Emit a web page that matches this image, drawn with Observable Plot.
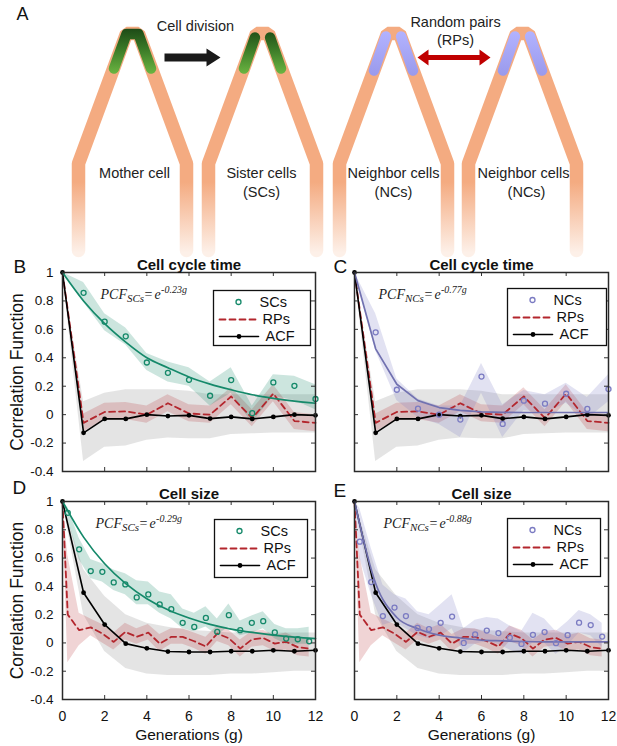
<!DOCTYPE html>
<html><head><meta charset="utf-8">
<script src="https://cdn.jsdelivr.net/npm/d3@7"></script>
<script src="https://cdn.jsdelivr.net/npm/@observablehq/plot@0.6"></script>
<style>
body{margin:0;background:#fff;}
#fig{position:relative;width:617px;height:746px;overflow:hidden;background:#fff;}
</style></head><body><div id="fig"></div>
<script>
// ---------------- data ----------------
const gens = [0,1,2,3,4,5,6,7,8,9,10,11,12];
const gens1 = [1,2,3,4,5,6,7,8,9,10,11,12];
const halfGens = [0.25,0.79,1.34,1.89,2.43,2.98,3.52,4.07,4.61,5.16,5.70,6.25,6.80,7.34,7.89,8.43,8.98,9.52,10.07,10.61,11.16,11.70];
const halfGens0 = [0,0.25,0.79,1.34,1.89,2.43,2.98,3.52,4.07,4.61,5.16,5.70,6.25,6.80,7.34,7.89,8.43,8.98,9.52,10.07,10.61,11.16,11.70];
const yTicks = [-0.4,-0.2,0,0.2,0.4,0.6,0.8,1];
const yTickLabels = ["-0.4","-0.2","0","0.2","0.4","0.6","0.8","1"];
const xTicks = [0,2,4,6,8,10,12];
const xTickLabels = ["0","2","4","6","8","10","12"];

// Panel B: cell cycle time, sister cells
const scCycle   = [0.857,0.654,0.551,0.367,0.294,0.245,0.133,0.243,0.010,0.227,0.203,0.110];
const scCycleHi = [1,0.93,0.71,0.61,0.43,0.37,0.33,0.23,0.33,0.06,0.28,0.27,0.21];
const scCycleLo = [1,0.79,0.59,0.49,0.31,0.23,0.20,0.06,0.15,-0.06,0.13,0.10,0.035];
const scCycleFit = [1,0.80,0.64,0.51,0.40,0.33,0.265,0.215,0.175,0.14,0.115,0.095,0.08];
// random pairs & ACF, cell cycle time (B and C)
const rpCycle   = [1,-0.058,0.019,0.023,0.0,0.080,0.008,0.0,0.128,-0.025,0.148,-0.045,-0.058];
const rpCycleHi = [1,0.005,0.08,0.085,0.06,0.14,0.07,0.06,0.19,0.035,0.21,0.015,0.0];
const rpCycleLo = [1,-0.12,-0.04,-0.035,-0.06,0.02,-0.05,-0.06,0.07,-0.085,0.09,-0.105,-0.12];
const acfCycle   = [1,-0.128,-0.030,-0.030,0.0,-0.010,-0.005,-0.028,-0.016,-0.030,-0.016,0.0,-0.005];
const acfCycleHi = [1,0.09,0.15,0.175,0.175,0.175,0.165,0.14,0.14,0.14,0.14,0.14,0.14];
const acfCycleLo = [1,-0.33,-0.23,-0.22,-0.18,-0.165,-0.17,-0.17,-0.14,-0.135,-0.13,-0.13,-0.13];
// Panel C: cell cycle time, neighbor cells
const ncCycle   = [0.579,0.175,0.042,0.0,-0.035,0.268,-0.065,0.098,0.077,0.147,0.040,0.180];
const ncCycleHi = [1,0.71,0.25,0.11,0.06,0.06,0.36,0.07,0.17,0.14,0.22,0.12,0.28];
const ncCycleLo = [1,0.45,0.10,-0.02,-0.07,-0.16,0.15,-0.16,0.03,0.01,0.08,-0.03,0.09];
const ncCycleFit = [1,0.463,0.214,0.099,0.05,0.03,0.02,0.016,0.015,0.015,0.015,0.015,0.015];
// Panel D: cell size, sister cells
const scSize   = [0.92,0.662,0.508,0.503,0.428,0.414,0.322,0.343,0.272,0.239,0.142,0.113,0.177,0.078,0.196,0.090,0.142,0.154,0.074,0.031,0.026,0.012];
const scSizeHi = [1,0.96,0.74,0.59,0.56,0.515,0.49,0.44,0.43,0.36,0.34,0.24,0.21,0.255,0.17,0.275,0.155,0.19,0.22,0.13,0.10,0.10,0.11];
const scSizeLo = [1,0.88,0.59,0.456,0.43,0.37,0.34,0.27,0.27,0.21,0.17,0.10,0.08,0.113,0.055,0.113,0.05,0.07,0.10,0.03,-0.01,-0.01,-0.01];
const scSizeFit = [1,0.748,0.560,0.419,0.313,0.234,0.176,0.131,0.098,0.074,0.055,0.041,0.031];
// random pairs & ACF, cell size (D and E)
const rpSize   = [1,0.20,0.09,0.11,0.066,0.007,0.078,0.043,0.073,-0.005,0.043,0.043,0.012,-0.025,0.066,0.033,-0.04,0.024,0.035,-0.005,0.008,-0.03,-0.04];
const rpSizeHi = [1,0.62,0.21,0.17,0.13,0.07,0.14,0.10,0.13,0.06,0.10,0.10,0.07,0.04,0.12,0.09,0.02,0.08,0.09,0.05,0.07,0.03,0.02];
const rpSizeLo = [1,-0.14,-0.02,0.05,0.0,-0.05,0.02,-0.01,0.02,-0.06,-0.01,-0.01,-0.04,-0.08,0.01,-0.02,-0.10,-0.03,-0.02,-0.06,-0.05,-0.09,-0.10];
const acfSize   = [1,0.355,0.13,-0.005,-0.038,-0.061,-0.064,-0.064,-0.059,-0.059,-0.052,-0.059,-0.052];
const acfSizeHi = [1,0.52,0.33,0.20,0.14,0.11,0.09,0.08,0.07,0.07,0.07,0.07,0.07];
const acfSizeLo = [1,0.20,-0.06,-0.18,-0.22,-0.23,-0.23,-0.23,-0.22,-0.22,-0.21,-0.20,-0.20];
// Panel E: cell size, neighbor cells
const ncSize   = [0.716,0.43,0.19,0.25,0.19,0.106,0.098,0.142,0.186,0.0,0.06,0.087,0.07,0.037,-0.007,0.057,0.077,-0.002,0.055,0.143,0.126,0.045];
const ncSizeHi = [1,0.95,0.67,0.41,0.34,0.31,0.22,0.20,0.27,0.34,0.10,0.16,0.18,0.17,0.12,0.08,0.21,0.17,0.08,0.15,0.23,0.20,0.14];
const ncSizeLo = [1,0.60,0.34,0.125,0.15,0.10,0.05,0.03,0.05,0.10,-0.07,-0.01,0.01,-0.01,-0.05,-0.08,0.0,0.0,-0.08,-0.02,0.07,0.05,-0.03];
const ncSizeFit = [1,0.42,0.18,0.10,0.055,0.035,0.02,0.015,0.01,0.008,0.008,0.008,0.008];

// Panel A illustration
const cellX = [132, 262, 393, 522];
const cellLabels = [
  {x:134, y:173, t:"Mother cell"}, {x:261, y:173, t:"Sister cells"}, {x:261, y:192, t:"(SCs)"},
  {x:393, y:173, t:"Neighbor cells"}, {x:393, y:192, t:"(NCs)"},
  {x:523, y:173, t:"Neighbor cells"}, {x:526, y:192, t:"(NCs)"},
  {x:195, y:26, t:"Cell division"}, {x:455, y:21.5, t:"Random pairs"}, {x:455, y:39.5, t:"(RPs)"}
];

// ---------------- helpers ----------------
const SANS = "Liberation Sans, Arial, Helvetica, sans-serif";
const SERIF = "Liberation Serif, Times New Roman, serif";
const GREEN = "#15896a", PURPLE = "#7b7bc2", PURPLE_LINE = "#7171b0", RED = "#b3262d";
const ns = "http://www.w3.org/2000/svg";
const fig = document.getElementById("fig");
function place(svg, left, top) {
  svg.style.position = "absolute"; svg.style.left = left + "px"; svg.style.top = top + "px";
  fig.appendChild(svg);
}
function addGradient(svg, id, attrs, stops) {
  let defs = svg.querySelector("defs");
  if (!defs) { defs = document.createElementNS(ns, "defs"); svg.insertBefore(defs, svg.firstChild); }
  const g = document.createElementNS(ns, "linearGradient");
  g.setAttribute("id", id);
  for (const [k, v] of Object.entries(attrs)) g.setAttribute(k, v);
  for (const [o, c] of stops) { const s = document.createElementNS(ns, "stop"); s.setAttribute("offset", o); s.setAttribute("stop-color", c); g.appendChild(s); }
  defs.appendChild(g);
}
const rows = (xs, ys, los, his) => xs.map((x, i) => ({x, y: ys ? ys[i] : null, lo: los ? los[i] : null, hi: his ? his[i] : null}));
const line = (coords) => ({type: "Feature", geometry: {type: "LineString", coordinates: coords}});
const poly = (coords) => ({type: "Feature", geometry: {type: "Polygon", coordinates: [coords]}});

// ---------------- Panel A ----------------
const legs = cellX.map(cx => line([[cx-54,252],[cx-54,163],[cx-6,33],[cx+6,33],[cx+54,163],[cx+54,252]]));
const greens = [
  line([[cellX[0]-18.5,68],[cellX[0]-6,33.5],[cellX[0]+6,33.5],[cellX[0]+18.5,68]]),
  line([[cellX[1]-7.6,37],[cellX[1]-18.5,68]]), line([[cellX[1]+7.6,37],[cellX[1]+18.5,68]])
];
const lavs = [cellX[2], cellX[3]].flatMap(cx => [line([[cx-7.6,36],[cx-19.5,70]]), line([[cx+7.6,36],[cx+19.5,70]])]);
const blackArrow = poly([[164,53],[206,53],[206,48],[220,57],[206,66],[206,61],[164,61],[164,53]]);
const redArrow = poly([[417,57],[428,49],[428,54.5],[479,54.5],[479,49],[490,57],[479,65],[479,59.5],[428,59.5],[428,65],[417,57]]);

const plotA = Plot.plot({
  width: 617, height: 250, marginTop: 0, marginRight: 0, marginBottom: 0, marginLeft: 0,
  projection: "identity",
  style: {fontFamily: SANS, background: "none", overflow: "visible"},
  marks: [
    Plot.geo(legs, {stroke: "url(#legFade)", strokeWidth: 13.5, strokeLinejoin: "miter", fill: "none"}),
    Plot.geo(greens, {stroke: "url(#greenGrad)", strokeWidth: 10.5, strokeLinecap: "round", strokeLinejoin: "round", fill: "none"}),
    Plot.geo(lavs, {stroke: "url(#lavGrad)", strokeWidth: 10.5, strokeLinecap: "round", fill: "none"}),
    Plot.geo([blackArrow], {fill: "#1a1a1a", stroke: "none"}),
    Plot.geo([redArrow], {fill: "#c00000", stroke: "none"}),
    Plot.text(cellLabels, {x: "x", y: "y", text: "t", fontSize: 14.5, fill: "#222", lineAnchor: "middle"}),
    Plot.text(["A"], {x: () => 16, y: () => 19, text: d => d, fontSize: 18, textAnchor: "start", lineAnchor: "bottom", fill: "#111"})
  ]
});
addGradient(plotA, "legFade", {gradientUnits: "userSpaceOnUse", x1: 0, y1: 0, x2: 0, y2: 252}, [["0.72", "#f4ab81"], ["1", "#fdf0e8"]]);
addGradient(plotA, "greenGrad", {gradientUnits: "userSpaceOnUse", x1: 0, y1: 28, x2: 0, y2: 74}, [["0", "#1d4a16"], ["0.45", "#3b7a27"], ["1", "#6cb642"]]);
addGradient(plotA, "lavGrad", {gradientUnits: "userSpaceOnUse", x1: 0, y1: 30, x2: 0, y2: 75}, [["0", "#b3b3ff"], ["1", "#9a9aec"]]);
place(plotA, 0, 0);

// ---------------- Panels B–E ----------------
function buildPanel(p) {
  const fw = p.R - p.L, fh = p.Bt - p.T;
  const gx = px => (px - p.L) / fw * 12;
  const vy = py => 1 - (py - p.T) / fh * 1.4;
  const ptext = (s, px, py, o) => Plot.text([s], {text: d => d, frameAnchor: "top-left", dx: px - p.L, dy: py - p.T, lineAnchor: "bottom", textAnchor: "start", ...o});
  const acfRows = rows(gens, p.acf);
  const fx = p.formula[0], fy = p.formula[1];
  const marks = [
    Plot.areaY(rows(gens, null, p.acfLo, p.acfHi), {x: "x", y1: "lo", y2: "hi", fill: "#b4b4b4", fillOpacity: 0.36}),
    Plot.areaY(rows(p.rpX, null, p.rpLo, p.rpHi), {x: "x", y1: "lo", y2: "hi", fill: RED, fillOpacity: 0.2}),
    Plot.areaY(rows(p.bandX, null, p.ptsLo, p.ptsHi), {x: "x", y1: "lo", y2: "hi", fill: p.color, fillOpacity: 0.22}),
    Plot.line(rows(p.rpX, p.rp), {x: "x", y: "y", stroke: RED, strokeWidth: 1.8, strokeDasharray: "6,4"}),
    Plot.line(acfRows, {x: "x", y: "y", stroke: "#000", strokeWidth: 1.6}),
    Plot.dot(acfRows, {x: "x", y: "y", r: 2.4, fill: "#000"}),
    Plot.line(rows(gens, p.fit), {x: "x", y: "y", stroke: p.lineColor, strokeWidth: 1.7, curve: p.curve}),
    Plot.dot(rows(p.ptsX, p.pts), {x: "x", y: "y", r: 2.5, stroke: p.color, strokeWidth: 1.3, fill: "none"}),
    // inward ticks on all four sides
    Plot.tickY(yTicks, {y: d => d, insetRight: fw - 4, stroke: "#333"}),
    Plot.tickY(yTicks, {y: d => d, insetLeft: fw - 4, stroke: "#333"}),
    Plot.tickX(xTicks, {x: d => d, insetTop: fh - 4, stroke: "#333"}),
    Plot.tickX(xTicks, {x: d => d, insetBottom: fh - 4, stroke: "#333"}),
    Plot.frame({stroke: "#2a2a2a", strokeWidth: 1.5}),
    // title and panel letter
    Plot.text([p.title], {text: d => d, frameAnchor: "top", dy: -2.5, lineAnchor: "bottom", fontWeight: "bold", fontSize: 15, fill: "#111"}),
    ptext(p.letter, p.letterPos[0], p.letterPos[1], {fontSize: 19, fill: "#111"}),
    // formula
    ptext("PCF", fx, fy, {fontFamily: SERIF, fontStyle: "italic", fontSize: 14, fill: "#222"}),
    ptext(p.sub, fx + 26.4, fy + 3.5, {fontFamily: SERIF, fontStyle: "italic", fontSize: 11, fill: "#222"}),
    ptext("=", fx + 27 + p.subW, fy, {fontFamily: SERIF, fontSize: 14, fill: "#222"}),
    ptext("e", fx + 37 + p.subW, fy, {fontFamily: SERIF, fontStyle: "italic", fontSize: 14, fill: "#222"}),
    ptext(p.exp, fx + 43.5 + p.subW, fy - 5.5, {fontFamily: SERIF, fontStyle: "italic", fontSize: 10, fill: "#222"})
  ];
  // legend
  const [bx0, by0, bx1, by1] = p.legend;
  const ry = [by0 + 11.5, by0 + 29, by0 + 46];
  marks.push(
    Plot.frame({insetLeft: bx0 - p.L, insetRight: p.R - bx1, insetTop: by0 - p.T, insetBottom: p.Bt - by1, fill: "white", stroke: "#111", strokeWidth: 1.3}),
    Plot.dot([{x: gx(bx0 + 25), y: vy(ry[0])}], {x: "x", y: "y", r: 2.5, stroke: p.color, strokeWidth: 1.3}),
    Plot.line([{x: gx(bx0 + 6), y: vy(ry[1])}, {x: gx(bx0 + 45), y: vy(ry[1])}], {x: "x", y: "y", stroke: RED, strokeWidth: 1.8, strokeDasharray: "6,4"}),
    Plot.line([{x: gx(bx0 + 6), y: vy(ry[2])}, {x: gx(bx0 + 45), y: vy(ry[2])}], {x: "x", y: "y", stroke: "#000", strokeWidth: 1.6}),
    Plot.dot([{x: gx(bx0 + 25.5), y: vy(ry[2])}], {x: "x", y: "y", r: 2.4, fill: "#000"}),
    Plot.text([{x: gx(bx0 + 46), y: vy(ry[0]), t: p.pair}, {x: gx(bx0 + 49), y: vy(ry[1]), t: "RPs"}, {x: gx(bx0 + 52), y: vy(ry[2]), t: "ACF"}],
      {x: "x", y: "y", text: "t", textAnchor: "start", lineAnchor: "middle", fontSize: 14.5, fill: "#111"})
  );
  if (p.yAxis) {
    marks.push(
      Plot.axisY({ticks: yTicks, tickFormat: d => yTickLabels[yTicks.indexOf(d)], tickSize: 0, tickPadding: 9, fontSize: 13.5, label: null}),
      Plot.text(["Correlation Function"], {text: d => d, frameAnchor: "left", dx: -45, rotate: -90, textAnchor: "middle", fontSize: 17.5, lineAnchor: "middle", fill: "#111"})
    );
  }
  if (p.xAxis) {
    marks.push(
      Plot.axisX({ticks: xTicks, tickFormat: d => xTickLabels[xTicks.indexOf(d)], tickSize: 0, tickPadding: 12, fontSize: 14, label: null}),
      Plot.text(["Generations (g)"], {text: d => d, frameAnchor: "bottom", dy: 36, fontSize: 15.5, lineAnchor: "middle", fill: "#111"})
    );
  }
  const svg = Plot.plot({
    width: p.width, height: p.height,
    marginLeft: p.L - p.left, marginRight: p.left + p.width - p.R,
    marginTop: p.T - p.top, marginBottom: p.top + p.height - p.Bt,
    x: {domain: [0, 12], ...(p.xAxis ? {} : {axis: null})},
    y: {domain: [-0.4, 1], ...(p.yAxis ? {} : {axis: null})},
    style: {fontFamily: SANS, background: "none", overflow: "visible", color: "#111"},
    marks
  });
  place(svg, p.left, p.top);
}

buildPanel({
  letter: "B", letterPos: [13, 272], title: "Cell cycle time",
  left: 0, top: 250, width: 320, height: 226, L: 62, R: 315, T: 272, Bt: 471,
  yAxis: true, xAxis: false, color: GREEN, lineColor: GREEN, curve: "monotone-x",
  pts: scCycle, ptsX: gens1, ptsLo: scCycleLo, ptsHi: scCycleHi, bandX: gens, fit: scCycleFit,
  rp: rpCycle, rpLo: rpCycleLo, rpHi: rpCycleHi, rpX: gens,
  acf: acfCycle, acfLo: acfCycleLo, acfHi: acfCycleHi,
  pair: "SCs", sub: "SCs", subW: 17.1, exp: "-0.23g", formula: [100, 298], legend: [213, 290, 310, 345]
});
buildPanel({
  letter: "C", letterPos: [333, 272], title: "Cell cycle time",
  left: 320, top: 250, width: 297, height: 226, L: 354, R: 608, T: 272, Bt: 471,
  yAxis: false, xAxis: false, color: PURPLE, lineColor: PURPLE_LINE, curve: "linear",
  pts: ncCycle, ptsX: gens1, ptsLo: ncCycleLo, ptsHi: ncCycleHi, bandX: gens, fit: ncCycleFit,
  rp: rpCycle, rpLo: rpCycleLo, rpHi: rpCycleHi, rpX: gens,
  acf: acfCycle, acfLo: acfCycleLo, acfHi: acfCycleHi,
  pair: "NCs", sub: "NCs", subW: 19, exp: "-0.77g", formula: [378, 298], legend: [507, 288, 606, 345]
});
buildPanel({
  letter: "D", letterPos: [12, 493], title: "Cell size",
  left: 0, top: 476, width: 320, height: 270, L: 62, R: 315, T: 501, Bt: 699,
  yAxis: true, xAxis: true, color: GREEN, lineColor: GREEN, curve: "monotone-x",
  pts: scSize, ptsX: halfGens, ptsLo: scSizeLo, ptsHi: scSizeHi, bandX: halfGens0, fit: scSizeFit,
  rp: rpSize, rpLo: rpSizeLo, rpHi: rpSizeHi, rpX: halfGens0,
  acf: acfSize, acfLo: acfSizeLo, acfHi: acfSizeHi,
  pair: "SCs", sub: "SCs", subW: 17.1, exp: "-0.29g", formula: [95, 527], legend: [214, 519, 307, 577]
});
buildPanel({
  letter: "E", letterPos: [333, 496], title: "Cell size",
  left: 320, top: 476, width: 297, height: 270, L: 354, R: 608, T: 501, Bt: 699,
  yAxis: false, xAxis: true, color: PURPLE, lineColor: PURPLE_LINE, curve: "monotone-x",
  pts: ncSize, ptsX: halfGens, ptsLo: ncSizeLo, ptsHi: ncSizeHi, bandX: halfGens0, fit: ncSizeFit,
  rp: rpSize, rpLo: rpSizeLo, rpHi: rpSizeHi, rpX: halfGens0,
  acf: acfSize, acfLo: acfSizeLo, acfHi: acfSizeHi,
  pair: "NCs", sub: "NCs", subW: 19, exp: "-0.88g", formula: [383, 527], legend: [507, 518, 600, 576]
});
</script>
</body></html>
